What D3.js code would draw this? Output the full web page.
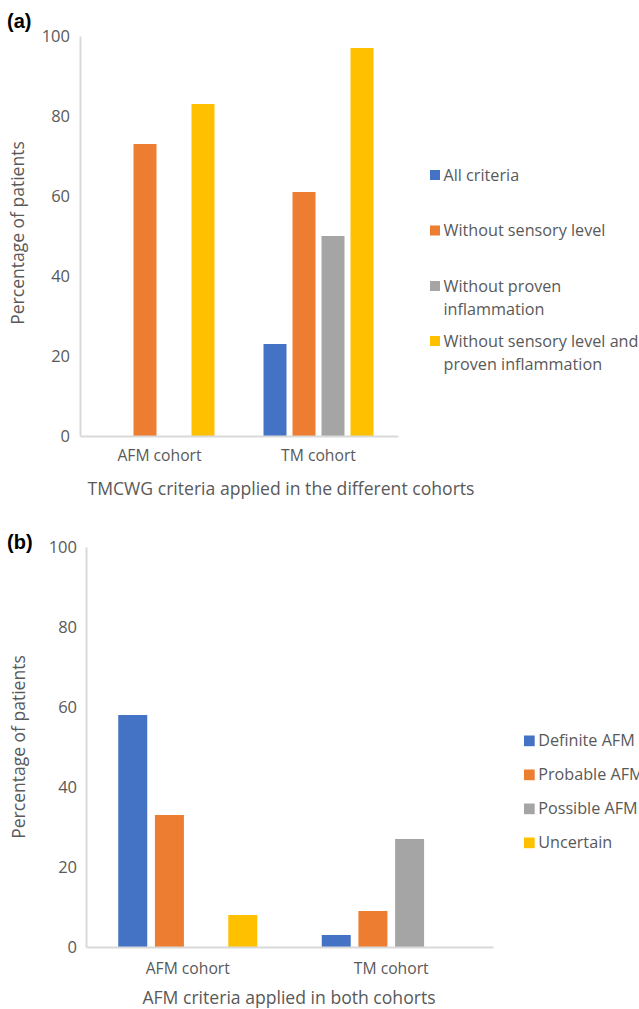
<!DOCTYPE html>
<html>
<head>
<meta charset="utf-8">
<script src="https://cdn.jsdelivr.net/npm/d3@7"></script>
<style>
  html, body { margin: 0; padding: 0; background: #fff; }
  svg { display: block; }
  text { font-family: "Open Sans", Lato, sans-serif; fill: #595959; }
</style>
</head>
<body>
<svg id="chart" width="639" height="1009"></svg>
<script>
// ---------- Data ----------
const cohorts = ["AFM cohort", "TM cohort"];
const yTicks = [0, 20, 40, 60, 80, 100];

// Panel (a): TMCWG criteria
const seriesA = ["All criteria", "Without sensory level", "Without proven inflammation", "Without sensory level and proven inflammation"];
const legendLinesA = [["All criteria"], ["Without sensory level"], ["Without proven", "inflammation"], ["Without sensory level and", "proven inflammation"]];
const allCriteria = [0, 23];
const withoutSensory = [73, 61];
const withoutInflammation = [0, 50];
const withoutBoth = [83, 97];
const valuesA = [allCriteria, withoutSensory, withoutInflammation, withoutBoth];

// Panel (b): AFM criteria
const seriesB = ["Definite AFM", "Probable AFM", "Possible AFM", "Uncertain"];
const definiteAFM = [58, 3];
const probableAFM = [33, 9];
const possibleAFM = [0, 27];
const uncertain = [8, 0];
const valuesB = [definiteAFM, probableAFM, possibleAFM, uncertain];

const colors = ["#4472C4", "#ED7D31", "#A5A5A5", "#FFC000"];
const FONT = "'Open Sans', Lato, sans-serif";

const svg = d3.select("#chart");

function panel(cfg) {
  const g = svg.append("g");
  const x0 = d3.scaleBand().domain(cohorts).range([cfg.left, cfg.right]);
  const x1 = d3.scaleBand().domain(d3.range(4)).range([-cfg.groupW / 2, cfg.groupW / 2]).paddingInner(cfg.pad);
  const y = d3.scaleLinear().domain([0, 100]).range([cfg.bottom, cfg.top]);

  // bars
  cohorts.forEach((c, ci) => {
    cfg.values.forEach((vals, si) => {
      const v = vals[ci];
      if (v <= 0) return;
      g.append("rect")
        .attr("x", x0(c) + x0.bandwidth() / 2 + x1(si))
        .attr("width", x1.bandwidth())
        .attr("y", y(v))
        .attr("height", y(0) - y(v))
        .attr("fill", colors[si]);
    });
  });

  // y axis
  const yAxis = d3.axisLeft(y).tickValues(yTicks).tickSize(0).tickPadding(cfg.tickPad);
  const ya = g.append("g").attr("transform", `translate(${cfg.left},0)`).call(yAxis);
  ya.select(".domain").attr("stroke", "#D9D9D9").attr("stroke-width", 2);
  ya.selectAll("text").style("font-family", FONT).style("font-size", "16.5px").attr("fill", "#595959");

  // x axis
  const xAxis = d3.axisBottom(x0).tickSize(0).tickPadding(cfg.xPad);
  const xa = g.append("g").attr("transform", `translate(0,${cfg.bottom})`).call(xAxis);
  xa.select(".domain").attr("stroke", "#D9D9D9").attr("stroke-width", 2);
  xa.selectAll("text").style("font-family", FONT).style("font-size", "15.7px").attr("fill", "#595959");

  // axis titles
  g.append("text")
    .attr("transform", `translate(${cfg.yTitleX},${cfg.yTitleY}) rotate(-90)`)
    .attr("text-anchor", "middle")
    .style("font-size", "17.5px")
    .text("Percentage of patients");
  g.append("text")
    .attr("x", cfg.xTitleX).attr("y", cfg.xTitleY)
    .attr("text-anchor", "middle")
    .style("font-size", "17.6px")
    .text(cfg.xTitle);

  // panel label
  g.append("text")
    .attr("x", 7).attr("y", cfg.labelY)
    .style("font-family", "'Liberation Sans', Arial, sans-serif")
    .style("font-weight", "bold")
    .style("font-size", "20px")
    .style("fill", "#000")
    .text(cfg.label);

  // legend
  cfg.legend.forEach((lines, i) => {
    const by = cfg.legendY[i];
    g.append("rect")
      .attr("x", cfg.legendX).attr("y", by - 10.5)
      .attr("width", cfg.sq).attr("height", cfg.sq)
      .attr("fill", colors[i]);
    lines.forEach((ln, li) => {
      g.append("text")
        .attr("x", cfg.legendX + cfg.sq + 3.5)
        .attr("y", by + li * 23.5)
        .style("font-size", "16.2px")
        .text(ln);
    });
  });
}

panel({
  values: valuesA, left: 80, right: 398, top: 36, bottom: 436,
  groupW: 110, pad: 0.207, tickPad: 10, xPad: 14,
  yTitleX: 24, yTitleY: 233, xTitleX: 281, xTitleY: 495,
  xTitle: "TMCWG criteria applied in the different cohorts",
  label: "(a)", labelY: 28,
  legend: legendLinesA, legendX: 430, sq: 10,
  legendY: [180.5, 236, 291.5, 346.5]
});

panel({
  values: valuesB, left: 86, right: 493, top: 547, bottom: 947,
  groupW: 139, pad: 0.21, tickPad: 9, xPad: 16,
  yTitleX: 25, yTitleY: 747, xTitleX: 289, xTitleY: 1004,
  xTitle: "AFM criteria applied in both cohorts",
  label: "(b)", labelY: 549,
  legend: seriesB.map(s => [s]), legendX: 524, sq: 10.7,
  legendY: [746, 780, 814, 848]
});
</script>
</body>
</html>
